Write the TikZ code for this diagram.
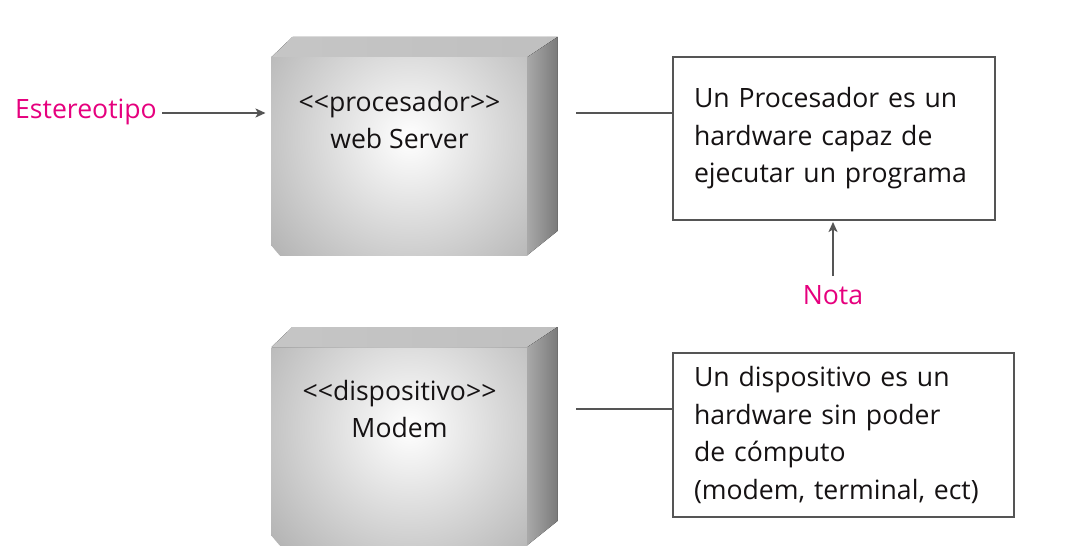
\documentclass[tikz,border=0pt]{standalone}
\usepackage{fontspec}
\setmainfont[Ligatures=NoCommon]{Open Sans}
\usetikzlibrary{calc,arrows.meta}
\definecolor{mag}{HTML}{E6007E}
\definecolor{ln}{HTML}{555555}
\definecolor{txt}{HTML}{151213}
\newcommand{\lt}{<{}}
\newcommand{\gt}{>{}}
\tikzset{
  front/.style={minimum width=256pt, minimum height=198pt, inner sep=0pt, outer sep=0pt,
    path picture={\shade[inner color=white, outer color=gray!58]
      ($(path picture bounding box.center)+(10pt,18pt)$) circle (175pt);}},
  topface/.style={left color=gray!45, middle color=white!96!gray, right color=gray!50},
  sideface/.style={left color=gray!68, right color=black!52},
  lbl/.style={font=\fontsize{26.6}{37}\selectfont, text=txt, inner sep=0pt},
  pink/.style={font=\fontsize{26.6}{37}\selectfont, text=mag, inner sep=0pt},
  notebox/.style={draw=ln, line width=1.8pt, fill=white, inner sep=0pt, outer sep=0pt,
    font=\fontsize{26.6}{37.5}\selectfont, text=txt, align=left},
  conn/.style={draw=ln, line width=1.6pt},
  arr/.style={conn, -{Stealth[length=10pt,width=9pt,inset=2.5pt]}}
}
\begin{document}
\begin{tikzpicture}[x=1pt,y=-1pt]
\useasboundingbox[fill=white] (0,0) rectangle (1083,553);

% ---- box 1
\node[front] (ws) at (399.5,156) {};
\fill[topface] (ws.north west) -- ++(21,-20) -- ([shift={(30,-20)}]ws.north east) -- (ws.north east) -- cycle;
\fill[sideface] (ws.north east) -- ([shift={(30,-20)}]ws.north east) -- ([shift={(30,-24)}]ws.south east) -- (ws.south east) -- cycle;
\node[lbl, align=center] (wst) at (399.5,120) {\lt\lt procesador\gt\gt\\web Server};

% ---- box 2
\node[front] (md) at (399.5,446) {};
\fill[topface] (md.north west) -- ++(21,-20) -- ([shift={(30,-20)}]md.north east) -- (md.north east) -- cycle;
\fill[sideface] (md.north east) -- ([shift={(30,-20)}]md.north east) -- ([shift={(30,-24)}]md.south east) -- (md.south east) -- cycle;
\node[lbl, align=center] (mdt) at (399.5,409) {\lt\lt dispositivo\gt\gt\\Modem};

% ---- notes
\node[notebox, minimum width=322pt, minimum height=163pt, text width=280pt] (n1) at (834,138.5)
  {Un Procesador es un\\hardware capaz de\\ejecutar un programa};
\node[notebox, minimum width=341pt, minimum height=164pt, text width=299pt] (n2) at (843.5,435)
  {Un dispositivo es un\\hardware sin poder\\de cómputo\\(modem, terminal, ect)};

% ---- connectors
\coordinate (c1) at (576,113);
\coordinate (c2) at (576,409);
\draw[conn] (c1) -- (c1 -| n1.west);
\draw[conn] (c2) -- (c2 -| n2.west);

\node[pink, anchor=east] (est) at (157,112) {Estereotipo};
\draw[arr, shorten <=5pt, shorten >=6pt] (est.east |- 0,113) -- (ws.west |- 0,113);

\node[pink] (nota) at (833,295) {Nota};
\draw[arr, shorten <=9pt, shorten >=2pt] (nota.north) -- (nota.north |- n1.south);
\end{tikzpicture}
\end{document}
